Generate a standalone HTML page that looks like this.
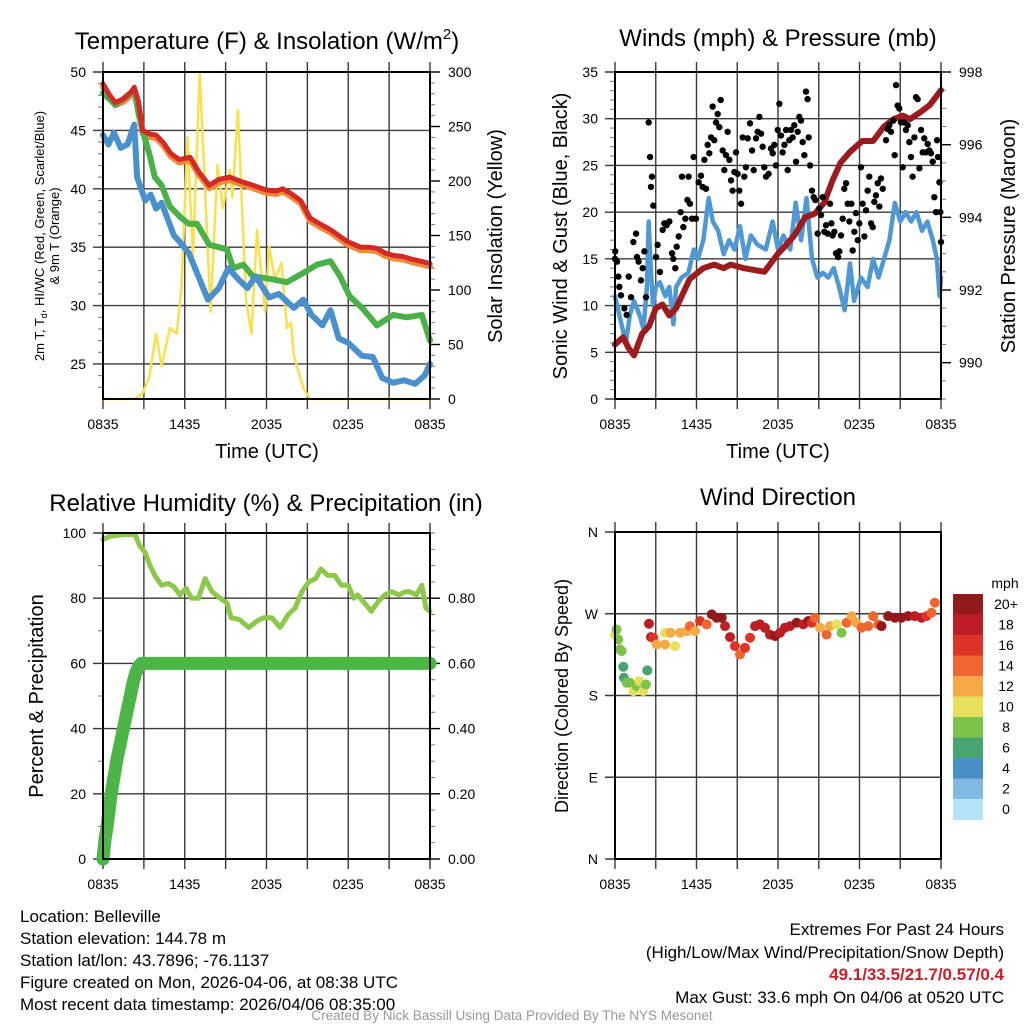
<!DOCTYPE html>
<html><head><meta charset="utf-8"><style>
html,body{margin:0;padding:0;background:#fff;}
svg{display:block;font-family:"Liberation Sans",sans-serif;}
</style></head><body>
<svg id="root" width="1024" height="1024" viewBox="0 0 1024 1024" xmlns="http://www.w3.org/2000/svg">
<rect width="1024" height="1024" fill="#fff"/>
<text x="267" y="49" font-size="24" text-anchor="middle">Temperature (F) &amp; Insolation (W/m<tspan font-size="15" dy="-10">2</tspan><tspan dy="10">)</tspan></text>
<text x="778" y="46" font-size="24" text-anchor="middle">Winds (mph) &amp; Pressure (mb)</text>
<text x="266" y="511" font-size="24" text-anchor="middle">Relative Humidity (%) &amp; Precipitation (in)</text>
<text x="778" y="505" font-size="24" text-anchor="middle">Wind Direction</text>
<text transform="translate(44,236) rotate(-90)" font-size="13" text-anchor="middle">2m T, T<tspan font-size="9" dy="3">d</tspan><tspan dy="-3">, HI/WC (Red, Green, Scarlet/Blue)</tspan></text>
<text transform="translate(59,236) rotate(-90)" font-size="13" text-anchor="middle">&amp; 9m T (Orange)</text>
<text transform="translate(502,236) rotate(-90)" font-size="20" text-anchor="middle">Solar Insolation (Yellow)</text>
<text x="267" y="458" font-size="20" text-anchor="middle">Time (UTC)</text>
<text x="778" y="458" font-size="20" text-anchor="middle">Time (UTC)</text>
<text transform="translate(567,236) rotate(-90)" font-size="20" text-anchor="middle">Sonic Wind &amp; Gust (Blue, Black)</text>
<text transform="translate(1015,236) rotate(-90)" font-size="20" text-anchor="middle">Station Pressure (Maroon)</text>
<text transform="translate(43,696) rotate(-90)" font-size="20" text-anchor="middle">Percent &amp; Precipitation</text>
<text transform="translate(568,696) rotate(-90)" font-size="18" text-anchor="middle">Direction (Colored By Speed)</text>
<g font-size="17">
<text x="20" y="922">Location: Belleville</text>
<text x="20" y="944">Station elevation: 144.78 m</text>
<text x="20" y="966">Station lat/lon: 43.7896; -76.1137</text>
<text x="20" y="988">Figure created on Mon, 2026-04-06, at 08:38 UTC</text>
<text x="20" y="1010">Most recent data timestamp: 2026/04/06 08:35:00</text>
<text x="1004" y="935" text-anchor="end">Extremes For Past 24 Hours</text>
<text x="1004" y="958" text-anchor="end">(High/Low/Max Wind/Precipitation/Snow Depth)</text>
<text x="1004" y="980" text-anchor="end" fill="#c8202a" font-weight="bold">49.1/33.5/21.7/0.57/0.4</text>
<text x="1004" y="1003" text-anchor="end">Max Gust: 33.6 mph On 04/06 at 0520 UTC</text>
</g>
<text x="512" y="1020" font-size="13.5" fill="#999" text-anchor="middle">Created By Nick Bassill Using Data Provided By The NYS Mesonet</text>
</svg>
<script>
// ---------- data ----------
const timeTicks = ['0835','1435','2035','0235','0835'];
const redT = [[0,49],[0.5,48],[0.9,47.4],[1.5,47.7],[2.0,48.2],[2.3,48.7],[2.6,47.5],[2.9,45],[3.4,44.7],[3.9,44.6],[4.4,44],[5.0,43],[5.6,42.5],[6.4,42.7],[7.0,41.5],[7.8,40.3],[8.5,40.8],[9.3,41],[10.2,40.6],[11.0,40.3],[12.0,39.9],[12.7,39.8],[13.2,40],[13.8,39.6],[14.5,39],[15.2,37.5],[15.9,37],[16.7,36.5],[17.3,36],[17.9,35.5],[18.9,35],[19.5,35],[20.1,34.9],[20.7,34.5],[21.3,34.3],[22.0,34.2],[22.6,34],[23.3,33.8],[24,33.6]];
const greenT = [[0,48.2],[0.9,47.2],[1.6,47.8],[2.3,48.5],[2.6,46.5],[2.9,45],[3.4,43],[3.8,41],[4.3,40.3],[4.9,38.5],[5.75,37.5],[6.3,37],[6.9,37],[7.8,35.2],[8.5,35],[9.1,34.8],[9.55,33.2],[10.3,33.5],[11.0,32.5],[12.2,32.3],[13.5,32],[14.7,32.8],[15.7,33.5],[16.7,33.8],[17.4,32.5],[18.1,30.8],[19.1,29.7],[20.1,28.3],[21.3,29.2],[22.3,29],[23.4,29.2],[24,27]];
const blueT = [[0,44.6],[0.4,43.8],[0.8,44.8],[1.3,43.5],[1.8,43.8],[2.3,45.5],[2.5,41],[3.1,39],[3.5,39.5],[3.9,38.3],[4.3,38.8],[5.2,36],[5.6,35.5],[6.3,34.5],[6.9,32.8],[7.7,30.5],[8.5,31.5],[9.2,33.2],[9.9,32.3],[10.6,31.5],[11.2,32.5],[12.2,30.7],[12.9,31],[14.0,29.8],[14.7,30.5],[15.3,29.2],[16.1,28.3],[16.7,29.6],[17.3,27.2],[18.0,26.8],[19.0,25.7],[19.8,25.6],[20.5,23.8],[21.3,23.4],[22.1,23.6],[22.9,23.3],[23.6,24],[24,25]];
const insolation = [[0,0],[2.3,0],[2.9,5],[3.4,20],[3.9,60],[4.3,30],[4.9,65],[5.4,60],[5.75,100],[6.2,240],[6.6,130],[7.1,300],[7.9,80],[8.4,215],[8.8,175],[9.3,210],[9.5,185],[9.9,265],[10.5,90],[10.9,60],[11.3,155],[11.9,80],[12.2,140],[12.6,110],[13.1,125],[13.5,65],[13.8,70],[14.0,40],[14.7,10],[15.2,0],[24,0]];
const windSpeed = [[0,11],[0.4,8.5],[0.8,6],[1.1,9],[1.4,10.5],[1.8,9],[2.1,7.5],[2.35,12],[2.48,19],[2.6,15],[2.8,10],[3.0,12],[3.3,12.5],[3.7,11],[4.0,12],[4.3,8],[4.5,12],[4.9,13],[5.4,13.5],[5.8,16],[6.1,15],[6.5,17],[6.9,21.5],[7.2,19],[7.6,18],[8.0,15.5],[8.4,17],[8.8,16],[9.2,18.5],[9.6,15],[10.0,17.5],[10.5,16.5],[11.1,16],[11.6,19],[12.0,16],[12.4,17.5],[12.9,16],[13.3,21],[13.7,17],[14.1,21.5],[14.5,15],[14.9,13],[15.3,13.5],[15.7,13],[16.1,14],[16.5,12],[16.9,9.5],[17.3,14.5],[17.6,10.5],[18.1,13],[18.6,12],[19.0,15],[19.4,13],[19.8,15],[20.2,17],[20.6,21],[21.0,19],[21.4,20],[21.8,19],[22.2,20],[22.6,18],[23.0,19],[23.4,17],[23.7,15],[23.9,11],[24,13]];
const pressure = [[0,990.5],[0.6,990.7],[1.0,990.4],[1.4,990.2],[2.0,990.8],[2.5,991.0],[3.0,991.5],[3.5,991.6],[4.0,991.3],[4.5,991.5],[5.0,991.9],[5.5,992.3],[6.5,992.6],[7.3,992.7],[8.0,992.6],[8.5,992.7],[9.5,992.6],[11.0,992.5],[12.0,993.0],[12.5,993.2],[13.2,993.5],[14.0,994],[14.7,994.1],[15.4,994.4],[16.0,995],[16.6,995.5],[17.3,995.8],[18.2,996.1],[19.0,996.1],[19.8,996.5],[20.5,996.7],[21.2,996.8],[21.7,996.7],[22.5,996.9],[23.2,997.1],[24,997.5]];
const gustTimes = [0,0.02,0.15,0.25,0.32,0.44,0.69,0.86,1.01,1.18,1.35,1.55,1.62,1.74,1.91,2.04,2.16,2.28,2.48,2.58,2.65,2.72,2.82,3.02,3.14,3.31,3.51,3.63,3.80,4.00,4.20,4.29,4.44,4.54,4.69,4.83,4.93,5.03,5.18,5.33,5.42,5.52,5.67,5.79,5.96,6.16,6.33,6.45,6.58,6.70,6.82,6.94,7.07,7.19,7.31,7.44,7.56,7.68,7.78,7.93,8.05,8.17,8.29,8.42,8.54,8.66,8.79,8.91,9.03,9.15,9.28,9.40,9.52,9.64,9.77,9.94,10.09,10.21,10.38,10.50,10.63,10.75,10.87,10.99,11.12,11.31,11.48,11.61,11.73,11.85,11.98,12.10,12.22,12.34,12.47,12.59,12.71,12.83,12.96,13.08,13.20,13.33,13.45,13.57,13.69,13.82,13.94,14.06,14.18,14.26,14.36,14.50,14.63,14.75,14.92,15.04,15.17,15.29,15.41,15.53,15.66,15.83,15.93,16.02,16.15,16.27,16.42,16.52,16.64,16.76,16.88,17.01,17.13,17.25,17.40,17.50,17.62,17.74,17.87,17.99,18.11,18.23,18.36,18.48,18.60,18.72,18.85,18.97,19.09,19.21,19.34,19.46,19.58,19.71,19.95,20.07,20.20,20.32,20.49,20.59,20.69,20.81,20.93,21.06,21.18,21.30,21.42,21.55,21.67,21.79,21.91,22.04,22.16,22.28,22.41,22.53,22.65,22.77,22.90,23.02,23.14,23.26,23.39,23.51,23.63,23.71,23.78,23.88,23.95,24.0];
const gustValues = [15.0,15.8,14.7,13.1,12.0,11.1,9.7,9.0,13.1,10.9,16.8,17.7,15.2,14.7,12.7,14.0,15.8,10.9,29.6,25.9,22.7,23.8,20.7,15.2,16.5,13.6,18.1,18.8,18.6,19.0,15.6,15.0,14.0,16.3,17.4,20.0,23.8,18.4,19.3,21.3,23.8,20.9,19.3,25.9,19.3,23.2,23.9,22.7,25.6,22.5,27.2,26.3,28.0,31.3,27.7,29.6,30.5,29.1,32.0,26.6,24.5,26.1,28.6,25.6,23.4,22.3,24.3,26.4,24.1,22.3,20.9,28.0,23.8,24.8,27.9,29.5,26.6,24.5,27.9,28.6,30.2,28.4,27.0,24.8,23.8,24.1,26.8,26.3,27.2,25.0,28.8,31.6,28.2,26.4,27.2,28.8,24.5,27.7,28.8,28.0,29.3,25.4,28.6,30.2,29.8,27.5,26.1,32.9,32.1,28.0,25.0,22.3,21.6,21.3,17.7,20.4,19.7,21.6,17.9,18.6,17.7,20.9,18.8,17.5,17.9,15.6,15.2,15.8,17.5,19.3,22.5,23.1,20.9,19.0,20.9,15.9,17.9,19.9,17.0,18.8,24.8,20.9,17.4,20.2,22.3,23.8,18.8,18.4,21.1,21.8,23.1,20.6,23.6,22.5,27.7,28.9,29.3,28.6,29.8,26.1,33.6,31.4,31.1,29.6,24.8,29.6,28.8,29.3,27.5,25.9,23.8,28.0,32.3,32.1,24.7,28.8,26.4,27.9,26.4,27.3,26.6,26.3,25.4,21.6,20.0,27.7,25.9,23.2,20.0,16.8];
const rhValues = [[0,98],[0.5,99],[1.5,99.5],[2.35,99.5],[2.7,96],[3.1,94],[3.45,90],[3.8,87],[4.3,84],[4.8,84.5],[5.2,83.5],[5.65,81],[6.1,83],[6.5,80],[7.0,80],[7.5,86],[8.0,82],[8.6,80],[9.1,78.5],[9.4,74],[10.0,73.5],[10.7,71],[11.3,73],[11.8,74],[12.4,74],[13.0,71],[13.3,73],[13.6,75],[14.1,77],[14.6,82],[15.1,85],[15.6,86],[16.0,89],[16.5,87],[17.0,87],[17.5,84],[18.0,84],[18.4,80],[18.7,81],[19.1,79],[19.7,76],[20.2,79],[20.7,81],[21.2,82],[21.7,81],[22.2,82],[22.5,82],[23.0,81],[23.4,84],[23.7,77],[24,76]];
const precipValues = [[0,0],[0.05,0.02],[0.15,0.06],[0.3,0.1],[0.45,0.15],[0.6,0.2],[0.8,0.25],[1.0,0.3],[1.25,0.35],[1.5,0.4],[1.75,0.45],[2.0,0.5],[2.2,0.54],[2.4,0.57],[2.6,0.59],[2.8,0.6],[4,0.6],[6,0.6],[8,0.6],[10,0.6],[12,0.6],[14,0.6],[16,0.6],[18,0.6],[20,0.6],[22,0.6],[24,0.6]];
const dirTimes = [0,0.12,0.25,0.37,0.49,0.61,0.66,0.86,1.1,1.35,1.6,1.79,2.09,2.28,2.38,2.5,2.65,2.82,3.07,3.68,3.68,4.08,4.42,4.79,5.28,5.52,5.89,6.26,6.75,7.12,7.48,7.86,8.10,8.47,8.83,9.20,9.57,9.94,10.31,10.67,11.04,11.41,11.78,12.15,12.51,12.88,13.37,13.86,14.23,14.48,14.72,15.09,15.58,15.82,16.31,16.68,17.05,17.42,17.78,18.15,18.64,19.01,19.38,19.62,20.11,20.60,21.09,21.58,22.07,22.56,22.93,23.30,23.55];
const dirValues = [247,252.7,241.7,230.7,228.9,211.6,199.5,194,194,184.8,190.3,195.8,184.8,192.1,207.6,259,244.3,243.6,236.2,249.1,236.2,249.1,234.4,249.1,250.9,256.4,250.9,262,258.3,269.3,265.6,265.6,256.4,244.3,234.4,225.2,232.5,243.6,256.4,258.3,254.6,247,245.4,249.1,254.6,256.4,260.1,258.3,262,260.1,265.6,254.6,247,256.4,258.3,249.1,260.1,267.4,260.1,254.6,256.4,267.4,258.3,256.4,267.4,265.6,265.6,267.4,267.4,265.6,267.4,271.1,282.1];
const dirSpeeds = [10,8,8,8,8,6,6,8,8,10,8,10,10,8,6,18,18,16,12,10,12,12,10,12,12,14,12,16,14,20,20,20,18,18,16,14,16,16,18,18,18,18,20,18,18,18,20,18,20,16,14,12,14,12,10,8,14,12,12,14,14,14,14,20,20,20,20,20,18,18,16,14,14];
const speedBins = ['0','2','4','6','8','10','12','14','16','18','20+'];
const binColors = ['#b5e4f8','#7fbae3','#4a8ec6','#48a56f','#7cc24b','#e7e05a','#f6aa47','#f06530','#dc3528','#bd1e26','#921a1d'];

// ---------- helpers ----------
const NS = 'http://www.w3.org/2000/svg';
const root = document.getElementById('root');
function mk(tag, attrs, parent){
  const e = document.createElementNS(NS, tag);
  for (const k in attrs) e.setAttribute(k, attrs[k]);
  (parent||root).appendChild(e);
  return e;
}
function lin(d0,d1,r0,r1){ return v => r0 + (v-d0)/(d1-d0)*(r1-r0); }

function panel(name, x0, x1, y0, y1, yMin, yMax){
  const g = mk('g', {});
  
  
  const P = {g, x0, x1, y0, y1, sx: lin(0,24,x0,x1), sy: lin(yMin,yMax,y1,y0)};
  for (let i=0;i<=8;i++){
    const x = x0 + i*(x1-x0)/8;
    const l = mk('line',{x1:x,x2:x,y1:y0-10,y2:y1+10,stroke:'#3a3a3a','stroke-width':1.4},g);
    
    
  }
  timeTicks.forEach((t,i)=>{
    const tx = mk('text',{x:x0+i*(x1-x0)/4,y:y1+30,'font-size':14,'text-anchor':'middle'},g);
    tx.textContent = t;
    
    
  });
  return P;
}
function hgrid(P, vals, labels){
  vals.forEach((v,i)=>{
    const y = P.sy(v);
    const l = mk('line',{x1:P.x0-10,x2:P.x1,y1:y,y2:y,stroke:'#3a3a3a','stroke-width':1.4},P.g);
    
    
    const t = mk('text',{x:P.x0-17,y:y+5,'font-size':14,'text-anchor':'end'},P.g);
    t.textContent = labels[i];
    
    
  });
}
function minorTicks(P, x, vals, sy, dir, len){
  vals.forEach(v=>{
    const y = sy(v);
    const l = mk('line',{x1:x,x2:x+dir*len,y1:y,y2:y,stroke:'#777','stroke-width':1},P.g);
    
    
  });
}
function rightAxis(P, sy, vals, labels){
  vals.forEach((v,i)=>{
    const y = sy(v);
    const l = mk('line',{x1:P.x1,x2:P.x1+10,y1:y,y2:y,stroke:'#000','stroke-width':1.4},P.g);
    
    
    const t = mk('text',{x:P.x1+18,y:y+5,'font-size':14},P.g);
    t.textContent = labels[i];
    
    
  });
}
function frame(P){
  const r = mk('rect',{x:P.x0,y:P.y0,width:P.x1-P.x0,height:P.y1-P.y0,fill:'none',stroke:'#000','stroke-width':2},P.g);
  
  
}
function path(P, data, sx, sy, color, w, name){
  const d = data.map((p,i)=>(i?'L':'M')+sx(p[0]).toFixed(1)+','+sy(p[1]).toFixed(1)).join('');
  const e = mk('path',{d, fill:'none', stroke:color,'stroke-width':w,'stroke-linejoin':'round','stroke-linecap':'round'},P.g);
  
  
  return e;
}
function range(a,b,s){ const r=[]; for(let v=a; v<=b+1e-9; v+=s) r.push(+v.toFixed(3)); return r; }

// ---------- panel 1: temperature ----------
const P1 = panel('temperature-panel', 103, 430, 72, 399, 22, 50);
const sIns = lin(0,300,399,72);
minorTicks(P1, P1.x0, range(23,50,1), P1.sy, -1, 5);
minorTicks(P1, P1.x1, range(10,300,10), sIns, 1, 5);
hgrid(P1, [25,30,35,40,45,50], ['25','30','35','40','45','50']);
rightAxis(P1, sIns, [0,50,100,150,200,250,300], ['0','50','100','150','200','250','300']);
path(P1, insolation, P1.sx, sIns, '#f8e050', 2.5, 'insolation-line');
path(P1, redT.map(p=>[p[0],p[1]-0.25]), P1.sx, P1.sy, '#f08a3a', 6, 'temp-9m-line');
path(P1, greenT, P1.sx, P1.sy, '#4bb048', 6, 'dewpoint-line');
path(P1, blueT, P1.sx, P1.sy, '#4a90cc', 6, 'windchill-line');
path(P1, redT, P1.sx, P1.sy, '#d42a26', 5, 'temp-2m-line');
frame(P1);

// ---------- panel 2: winds ----------
const P2 = panel('winds-panel', 615, 941, 72, 399, 0, 35);
const sPr = lin(989,998,399,72);
minorTicks(P2, P2.x0, range(1,35,1), P2.sy, -1, 5);
minorTicks(P2, P2.x1, range(989,998,0.5), sPr, 1, 5);
hgrid(P2, [0,5,10,15,20,25,30,35], ['0','5','10','15','20','25','30','35']);
rightAxis(P2, sPr, [990,992,994,996,998], ['990','992','994','996','998']);
path(P2, windSpeed, P2.sx, P2.sy, '#4f98d3', 4.5, 'wind-speed-line');
path(P2, pressure, P2.sx, sPr, '#9b1b1e', 6, 'pressure-line');
gustTimes.forEach((t,i)=>{
  const c = mk('circle',{cx:P2.sx(t),cy:P2.sy(gustValues[i]),r:3.2,fill:'#000'},P2.g);
  
  
});
frame(P2);

// ---------- panel 3: RH ----------
const P3 = panel('humidity-panel', 103, 430, 533, 859, 0, 100);
const sPc = lin(0,1,859,533);
minorTicks(P3, P3.x0, range(10,100,10), P3.sy, -1, 5);
minorTicks(P3, P3.x1, range(0.05,1,0.05), sPc, 1, 5);
hgrid(P3, [0,20,40,60,80,100], ['0','20','40','60','80','100']);
rightAxis(P3, sPc, [0,0.2,0.4,0.6,0.8], ['0.00','0.20','0.40','0.60','0.80']);
path(P3, rhValues, P3.sx, P3.sy, '#8dc84c', 5, 'rh-line');
path(P3, precipValues, P3.sx, sPc, '#4bb545', 13, 'precip-line');
precipValues.forEach(p=>{
  const c = mk('circle',{cx:P3.sx(p[0]),cy:sPc(p[1]),r:6.5,fill:'#4bb545'},P3.g);
  
  
});
frame(P3);

// ---------- panel 4: wind direction ----------
const P4 = panel('direction-panel', 615, 941, 532, 859, 0, 360);
hgrid(P4, [0,90,180,270,360], ['N','E','S','W','N']);
function binIndex(s){ return Math.min(10, Math.floor(s/2)); }
dirTimes.forEach((t,i)=>{
  const c = mk('circle',{cx:P4.sx(t),cy:P4.sy(dirValues[i]),r:5,fill:binColors[binIndex(dirSpeeds[i])]},P4.g);
  
  
});
frame(P4);

// colorbar
const cb = mk('g',{});


const mph = mk('text',{x:1005,y:588,'font-size':14,'text-anchor':'middle'},cb);
mph.textContent = 'mph';


const cbTop = 594, cbH = 20.5;
speedBins.slice().reverse().forEach((lab,i)=>{
  const idx = 10 - i;
  const r = mk('rect',{x:953,y:cbTop+i*cbH,width:30,height:cbH+0.5,fill:binColors[idx]},cb);
  
  
  const t = mk('text',{x:1006,y:cbTop+i*cbH+15,'font-size':14,'text-anchor':'middle'},cb);
  t.textContent = lab;
  
  
});
</script>
</body></html>
